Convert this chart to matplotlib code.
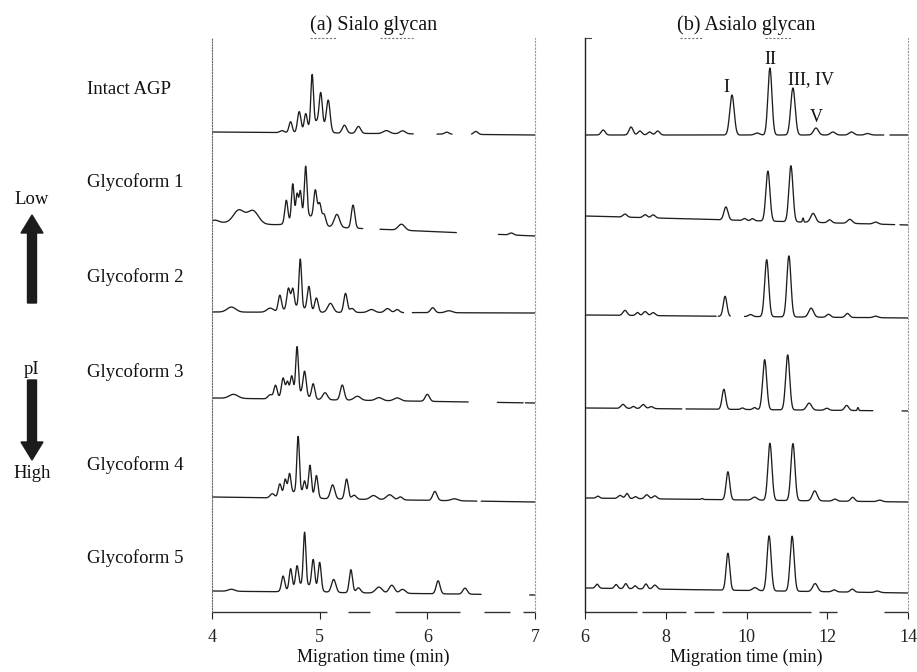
import numpy as np
import matplotlib
matplotlib.use("Agg")
import matplotlib.pyplot as plt
from matplotlib.patches import FancyArrow

# ---------------- data ----------------
row_labels = ["Intact AGP", "Glycoform 1", "Glycoform 2",
              "Glycoform 3", "Glycoform 4", "Glycoform 5"]
panel_titles = ["(a) Sialo glycan", "(b) Asialo glycan"]
xlabel_text = "Migration time (min)"
sialo_xticks = [4, 5, 6, 7]
asialo_xticks = [6, 8, 10, 12, 14]
peak_names = ["I", "II", "III, IV", "V"]
peak_name_x = [9.49, 10.6, 11.6, 11.72]
pi_texts = ["Low", "pI", "High"]

# peaks: (migration time min, height [arb.], width sigma min)
sialo_intact = [(4.65, 2, 0.02), (4.73, 11, 0.015), (4.81, 21, 0.016), (4.87, 17, 0.014),
                (4.93, 50, 0.012), (5.01, 30, 0.014), (5.08, 30, 0.017), (4.98, 12, 0.06),
                (5.23, 8, 0.02), (5.36, 7, 0.02), (5.62, 3, 0.03), (5.77, 3, 0.025),
                (6.18, 2, 0.02), (6.45, 3, 0.02)]
sialo_g1 = [(4.03, 2, 0.03), (4.25, 13, 0.05), (4.38, 13, 0.05),
            (4.69, 23, 0.014), (4.75, 36, 0.012), (4.79, 23, 0.011), (4.82, 24, 0.011),
            (4.87, 48, 0.012), (4.96, 30, 0.015), (5.00, 19, 0.014), (5.04, 11, 0.017),
            (4.86, 12, 0.09), (5.16, 13, 0.025), (5.31, 23, 0.016), (5.76, 6, 0.03),
            (6.78, 2, 0.02)]
sialo_g2 = [(4.18, 5, 0.04), (4.54, 4, 0.03), (4.63, 16, 0.015), (4.71, 20, 0.015),
            (4.75, 18, 0.013), (4.82, 48, 0.012), (4.90, 24, 0.015), (4.97, 14, 0.016),
            (4.78, 6, 0.08), (5.10, 9, 0.025), (5.24, 19, 0.016), (5.30, 4, 0.02),
            (5.48, 3, 0.03), (5.63, 4, 0.025), (5.72, 3, 0.02), (6.05, 5, 0.02),
            (6.20, 2, 0.03)]
sialo_g3 = [(4.20, 4, 0.04), (4.54, 4, 0.02), (4.59, 13, 0.015), (4.66, 18, 0.015),
            (4.70, 12, 0.012), (4.74, 16, 0.013), (4.79, 45, 0.012), (4.86, 24, 0.015),
            (4.94, 15, 0.015), (4.77, 8, 0.08), (5.05, 7, 0.022), (5.21, 15, 0.018),
            (5.35, 4, 0.03), (5.55, 3, 0.03), (5.72, 3, 0.03), (6.00, 7, 0.02)]
sialo_g4 = [(4.56, 4, 0.02), (4.63, 13, 0.015), (4.68, 16, 0.013), (4.72, 20, 0.013),
            (4.80, 55, 0.012), (4.86, 12, 0.012), (4.91, 30, 0.013), (4.97, 22, 0.014),
            (4.80, 7, 0.09), (5.12, 14, 0.02), (5.25, 20, 0.016), (5.32, 4, 0.02),
            (5.50, 4, 0.03), (5.65, 5, 0.03), (5.75, 3, 0.02), (6.07, 9, 0.02),
            (6.25, 2, 0.03)]
sialo_g5 = [(4.18, 2, 0.03), (4.66, 15, 0.015), (4.73, 20, 0.013), (4.79, 20, 0.013),
            (4.86, 52, 0.012), (4.94, 28, 0.014), (5.00, 28, 0.014), (4.85, 8, 0.09),
            (5.13, 13, 0.02), (5.29, 23, 0.015), (5.36, 5, 0.02), (5.55, 6, 0.03),
            (5.67, 8, 0.025), (5.77, 4, 0.025), (6.10, 13, 0.018), (6.35, 6, 0.02)]

asialo_intact = [(6.45, 5, 0.05), (7.14, 8, 0.05), (7.36, 4, 0.05), (7.60, 3, 0.05),
                 (7.80, 4, 0.05), (9.64, 40, 0.055), (10.26, 2, 0.06), (10.58, 67, 0.05),
                 (11.15, 47, 0.055), (11.72, 7, 0.06), (12.14, 3, 0.06), (12.60, 3, 0.06),
                 (13.00, 1.5, 0.06)]
asialo_g1 = [(6.99, 3, 0.05), (7.49, 3, 0.05), (7.69, 3, 0.05), (9.49, 13, 0.05),
             (9.95, 2, 0.04), (10.15, 2, 0.04), (10.53, 50, 0.05), (11.10, 56, 0.05),
             (11.40, 4, 0.015), (11.65, 9, 0.06), (12.06, 3, 0.05), (12.56, 4, 0.06),
             (13.20, 2, 0.06)]
asialo_g2 = [(6.99, 5, 0.05), (7.30, 3, 0.04), (7.49, 4, 0.05), (7.69, 3, 0.05),
             (9.47, 20, 0.045), (10.10, 2, 0.05), (10.50, 57, 0.05), (11.05, 61, 0.05),
             (11.60, 9, 0.06), (12.03, 3, 0.05), (12.50, 4, 0.05), (13.20, 1.5, 0.06)]
asialo_g3 = [(6.94, 4, 0.05), (7.20, 2, 0.04), (7.44, 4, 0.05), (7.64, 2, 0.05),
             (9.44, 20, 0.045), (9.90, 1.5, 0.04), (10.20, 2, 0.04), (10.45, 50, 0.05),
             (11.02, 55, 0.05), (11.55, 7, 0.06), (11.99, 2, 0.05), (12.48, 5, 0.05),
             (12.76, 3, 0.015)]
asialo_g4 = [(6.32, 2, 0.04), (6.87, 3, 0.05), (7.04, 5, 0.04), (7.25, 2, 0.04),
             (7.53, 4, 0.05), (7.73, 3, 0.05), (8.90, 1, 0.02), (9.54, 28, 0.045),
             (10.20, 3, 0.06), (10.58, 57, 0.05), (11.15, 57, 0.05), (11.69, 10, 0.06),
             (12.19, 2, 0.05), (12.63, 4, 0.05), (13.30, 1.5, 0.06)]
asialo_g5 = [(6.30, 4, 0.04), (6.77, 4, 0.04), (7.01, 5, 0.04), (7.24, 3, 0.04),
             (7.51, 5, 0.04), (7.73, 4, 0.05), (9.54, 37, 0.045), (10.21, 3, 0.06),
             (10.56, 55, 0.05), (11.13, 55, 0.05), (11.70, 8, 0.06), (12.17, 2, 0.05),
             (12.62, 3, 0.05), (13.24, 1.5, 0.06)]

# visible (recorded) stretches of each trace, min
sialo_segments = [[(4.0, 5.87), (6.09, 6.23), (6.41, 7.0)],
                  [(4.0, 5.40), (5.56, 6.27), (6.66, 7.0)],
                  [(4.0, 5.78), (5.86, 7.0)],
                  [(4.0, 6.38), (6.65, 6.89), (6.91, 7.0)],
                  [(4.0, 6.46), (6.50, 7.0)],
                  [(4.0, 6.50), (6.95, 7.0)]]
asialo_segments = [[(6.0, 13.4), (13.55, 14.0)],
                   [(6.0, 13.67), (13.8, 14.0)],
                   [(6.0, 9.25), (9.30, 9.60), (9.95, 14.0)],
                   [(6.0, 8.40), (8.50, 13.13), (13.85, 14.0)],
                   [(6.0, 14.0)],
                   [(6.0, 14.0)]]
# visible stretches of the (scanned) time axis line
sialo_axis_segments = [(4.0, 5.07), (5.26, 5.47), (5.70, 6.30), (6.53, 6.77), (6.89, 7.0)]
asialo_axis_segments = [(6.0, 7.3), (7.4, 8.5), (8.7, 9.2), (9.4, 11.6), (11.8, 12.25),
                        (13.4, 14.0)]

# baseline drift of each trace (start, end), same units as peak heights
sialo_drift = [(0, -3), (0, -14), (0, -1), (0, -5), (0, -5), (0, -4)]
asialo_drift = [(0, 0), (0, -9), (0, -3), (0, -3), (0, -4), (0, -5)]

sialo_peaks = [sialo_intact, sialo_g1, sialo_g2, sialo_g3, sialo_g4, sialo_g5]
asialo_peaks = [asialo_intact, asialo_g1, asialo_g2, asialo_g3, asialo_g4, asialo_g5]

# ---------------- layout (pixels) ----------------
W, H, DPI = 917, 672, 100
AX_TOP, AX_BOT = 38, 612
left_px = (212, 535)
right_px = (585, 908)
sialo_base_px = [132, 222, 312, 398, 497, 591]
asialo_base_px = [135, 216, 315, 408, 498, 588]
label_y_px = [90, 182, 277, 372, 465, 558]

plt.rcParams["font.family"] = ["Liberation Serif", "DejaVu Serif"]

fig = plt.figure(figsize=(W / DPI, H / DPI), dpi=DPI)
fig.patch.set_facecolor("white")

ov = fig.add_axes([0, 0, 1, 1])
ov.set_xlim(0, W)
ov.set_ylim(H, 0)
ov.axis("off")


def make_ax(px):
    return fig.add_axes([px[0] / W, (H - AX_BOT) / H, (px[1] - px[0]) / W,
                         (AX_BOT - AX_TOP) / H])


def trace(xs, peaks, drift, segs):
    y = np.interp(xs, [xs[0], xs[-1]], list(drift)).astype(float)
    for p, h, s in peaks:
        y += h * np.exp(-0.5 * ((xs - p) / s) ** 2)
    mask = np.zeros_like(xs, dtype=bool)
    for a, b in segs:
        mask |= (xs >= a) & (xs <= b)
    y[~mask] = np.nan
    return y


axL = make_ax(left_px)
axR = make_ax(right_px)

for ax, xt, peaks, segs, drifts, bases, axsegs in [
        (axL, sialo_xticks, sialo_peaks, sialo_segments, sialo_drift, sialo_base_px,
         sialo_axis_segments),
        (axR, asialo_xticks, asialo_peaks, asialo_segments, asialo_drift, asialo_base_px,
         asialo_axis_segments)]:
    ax.set_facecolor("none")
    ax.set_xlim(xt[0], xt[-1])
    ax.set_ylim(0, AX_BOT - AX_TOP)
    xs = np.linspace(xt[0], xt[-1], 4000)
    for pk, sg, dr, b in zip(peaks, segs, drifts, bases):
        y = trace(xs, pk, dr, sg) + (AX_BOT - b)
        ax.plot(xs, y, color="#1e1e1e", lw=0.95, solid_capstyle="round")
    for a, b in axsegs:
        ax.plot([a, b], [0, 0], color="#333", lw=1.0, clip_on=False,
                solid_capstyle="butt")
    ax.set_yticks([])
    ax.set_xticks(xt)
    ax.set_xticklabels([str(v) for v in xt], fontsize=13)
    ax.tick_params(axis="x", direction="out", length=5, width=0.8, pad=7,
                   colors="#222")
    ax.set_xlabel(xlabel_text, fontsize=13, labelpad=2, color="#111")
    ax.spines["top"].set_visible(False)
    ax.spines["bottom"].set_visible(False)
    ax.spines["right"].set_linestyle((0, (1, 2)))
    ax.spines["right"].set_color("#999")
    ax.spines["right"].set_linewidth(0.8)

axL.spines["left"].set_linestyle((0, (1, 1.5)))
axL.spines["left"].set_color("#666")
axL.spines["left"].set_linewidth(0.8)
axR.spines["left"].set_color("#222")
axR.spines["left"].set_linewidth(1.0)

# peak names on the intact asialo trace
name_y_px = [87, 60, 80, 118]
for nm, x, ypx in zip(peak_names, peak_name_x, name_y_px):
    axR.text(x, AX_BOT - ypx, nm, ha="center", va="center", fontsize=13, color="#111")

# titles
for t, px in zip(panel_titles, [left_px, right_px]):
    ov.text((px[0] + px[1]) / 2, 25, t, ha="center", va="center", fontsize=14.5,
            color="#111")
# scan underline marks and small top stub of the right frame
for x0, x1 in [(310, 337), (380, 413), (680, 703), (765, 792)]:
    ov.plot([x0, x1], [38, 38], color="#777", lw=0.8, ls=(0, (2, 1.5)))
ov.plot([585, 591], [38, 38], color="#444", lw=0.8)

# row labels
for lab, ypx in zip(row_labels, label_y_px):
    ov.text(87, ypx, lab, ha="left", va="center", fontsize=13.5, color="#111")

# pI arrows
ov.text(32, 200, pi_texts[0], ha="center", va="center", fontsize=13.5, color="#111")
ov.text(32, 370, pi_texts[1], ha="center", va="center", fontsize=13.5, color="#111")
ov.text(32, 473, pi_texts[2], ha="center", va="center", fontsize=13.5, color="#111")
ov.add_patch(FancyArrow(32, 303, 0, -88, width=9, head_width=22, head_length=18,
                        length_includes_head=True, color="#1c1c1c"))
ov.add_patch(FancyArrow(32, 380, 0, 80, width=9, head_width=22, head_length=18,
                        length_includes_head=True, color="#1c1c1c"))

fig.savefig("out.png", dpi=DPI, facecolor="white")
